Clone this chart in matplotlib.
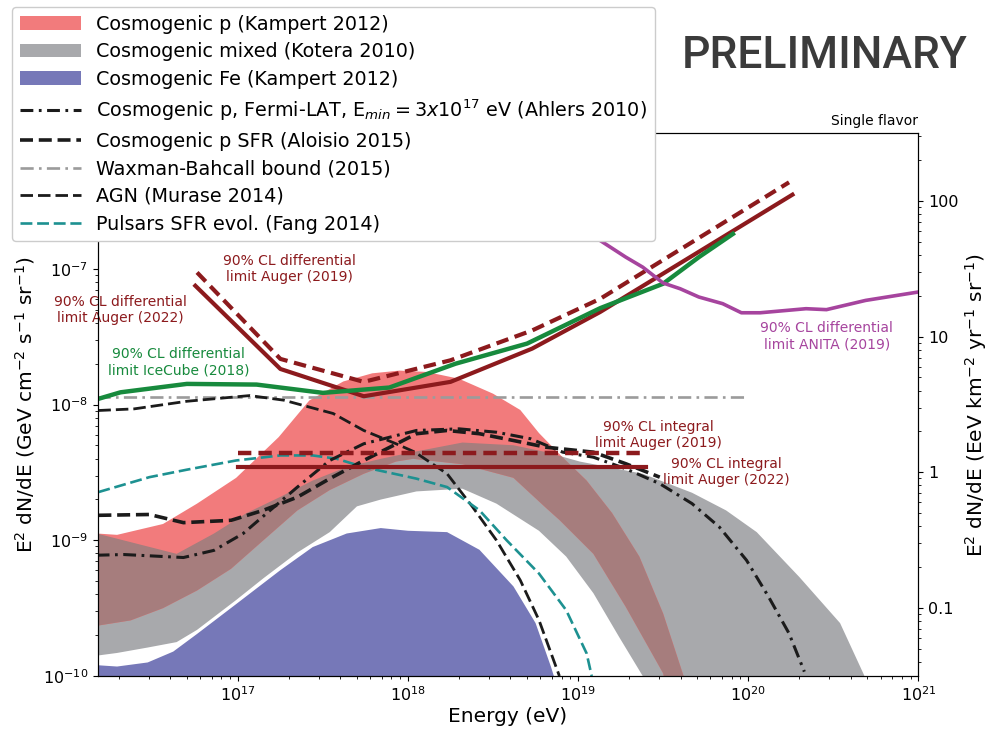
import numpy as np
import matplotlib
matplotlib.use("Agg")
import matplotlib.pyplot as plt
from matplotlib import ticker
from matplotlib.patches import Patch
from matplotlib.lines import Line2D

# ---------------- data (log10 of energy in eV, log10 of E^2 dN/dE in GeV cm^-2 s^-1 sr^-1)
# Cosmogenic Fe (Kampert 2012): upper edge of band
fe_logE = [16.17, 16.29, 16.47, 16.62, 16.76, 16.99, 17.25, 17.44, 17.64, 17.84,
           18.00, 18.23, 18.42, 18.62, 18.75, 18.84, 18.87]
fe_logF = [-9.92, -9.93, -9.90, -9.82, -9.69, -9.47, -9.22, -9.05, -8.95, -8.91,
           -8.93, -8.94, -9.07, -9.34, -9.61, -9.93, -10.05]

# Cosmogenic mixed (Kotera 2010): upper / lower edges
mix_hi_logE = [16.17, 16.64, 16.86, 17.05, 17.25, 17.44, 17.64, 17.84, 18.03, 18.32,
               18.62, 18.81, 19.01, 19.38, 19.67, 19.87, 20.05, 20.30, 20.54, 20.68, 20.71]
mix_hi_logF = [-8.95, -9.10, -8.95, -8.80, -8.68, -8.56, -8.46, -8.40, -8.35, -8.28,
               -8.30, -8.35, -8.42, -8.51, -8.65, -8.78, -8.94, -9.27, -9.61, -9.99, -10.1]
mix_lo_logE = [16.17, 16.29, 16.47, 16.64, 16.76, 16.99, 17.15, 17.35, 17.54, 17.70,
               17.84, 18.05, 18.32, 18.52, 18.77, 18.93, 19.09, 19.24, 19.38, 19.42]
mix_lo_logF = [-9.85, -9.83, -9.79, -9.75, -9.66, -9.44, -9.28, -9.09, -8.94, -8.75,
               -8.70, -8.64, -8.62, -8.73, -8.93, -9.12, -9.39, -9.71, -10.0, -10.1]

# Cosmogenic p (Kampert 2012): upper / lower edges
p_hi_logE = [16.17, 16.29, 16.56, 16.76, 16.99, 17.24, 17.42, 17.62, 17.79, 17.95, 18.11,
             18.30, 18.50, 18.66, 18.77, 18.91, 19.05, 19.20, 19.36, 19.50, 19.62, 19.65]
p_hi_logF = [-8.95, -8.96, -8.88, -8.73, -8.54, -8.24, -7.97, -7.83, -7.77, -7.75, -7.76,
             -7.81, -7.92, -8.04, -8.21, -8.39, -8.56, -8.80, -9.12, -9.54, -10.0, -10.2]
p_lo_logE = [16.17, 16.37, 16.56, 16.76, 16.96, 17.15, 17.35, 17.54, 17.74, 17.93,
             18.03, 18.32, 18.62, 18.81, 18.89, 19.09, 19.28, 19.50, 19.52]
p_lo_logF = [-9.63, -9.59, -9.50, -9.37, -9.21, -9.00, -8.78, -8.63, -8.51, -8.42,
             -8.40, -8.44, -8.54, -8.76, -8.85, -9.10, -9.49, -9.98, -10.1]

# Cosmogenic p, Fermi-LAT (Ahlers 2010)
ahl_logE = [16.17, 16.33, 16.68, 16.86, 17.03, 17.19, 17.35, 17.54, 17.74, 18.05, 18.30, 18.52,
            18.72, 18.91, 19.09, 19.28, 19.48, 19.67, 19.83, 19.99, 20.12, 20.24, 20.33]
ahl_logF = [-9.11, -9.105, -9.127, -9.074, -8.951, -8.779, -8.608, -8.412, -8.289, -8.191, -8.179,
            -8.204, -8.252, -8.351, -8.388, -8.473, -8.583, -8.73, -8.902, -9.147, -9.417,
            -9.686, -9.968]

# Cosmogenic p SFR (Aloisio 2015)
alo_logE = [16.18, 16.48, 16.68, 16.96, 17.15, 17.35, 17.54, 17.74, 18.05, 18.23, 18.42,
            18.62, 18.81, 19.09, 19.28, 19.48]
alo_logF = [-8.816, -8.81, -8.87, -8.853, -8.779, -8.682, -8.546, -8.412, -8.215, -8.191,
            -8.215, -8.265, -8.314, -8.351, -8.436, -8.535]

# Waxman-Bahcall bound (2015)
wb_logE = [16.17, 20.0]
wb_logF = [-7.946, -7.946]

# AGN (Murase 2014)
agn_logE = [16.18, 16.39, 16.70, 17.07, 17.27, 17.56, 17.74, 17.93, 18.04, 18.23, 18.38,
            18.52, 18.66, 18.77, 18.89]
agn_logF = [-8.044, -8.032, -7.976, -7.934, -7.968, -8.066, -8.191, -8.289, -8.35, -8.51,
            -8.755, -9.0, -9.294, -9.588, -10.0]

# Pulsars SFR evolution (Fang 2014)
psr_logE = [16.18, 16.48, 16.70, 16.99, 17.25, 17.44, 17.58, 17.74, 18.05, 18.23, 18.42,
            18.58, 18.77, 18.93, 19.05, 19.08]
psr_logF = [-8.645, -8.535, -8.48, -8.412, -8.375, -8.375, -8.399, -8.461, -8.546, -8.608,
            -8.779, -9.0, -9.245, -9.515, -9.833, -10.0]

# Differential limits
auger22_logE = [16.75, 17.25, 17.74, 18.25, 18.73, 19.13, 20.26]
auger22_logF = [-7.125, -7.738, -7.939, -7.833, -7.588, -7.318, -6.454]
auger19_logE = [16.76, 17.25, 17.74, 18.25, 18.73, 19.13, 20.24]
auger19_logF = [-7.027, -7.664, -7.833, -7.674, -7.454, -7.221, -6.363]
icecube_logE = [16.18, 16.31, 16.70, 17.11, 17.50, 17.89, 18.28, 18.70, 19.13, 19.50, 19.71, 19.91]
icecube_logF = [-7.958, -7.91, -7.848, -7.853, -7.914, -7.875, -7.699, -7.551, -7.29, -7.11,
                -6.914, -6.743]
anita_logE = [19.05, 19.13, 19.28, 19.38, 19.50, 19.60, 19.71, 19.85, 19.96, 20.07, 20.34,
              20.46, 20.69, 21.0]
anita_logF = [-6.73, -6.792, -6.914, -6.988, -7.105, -7.147, -7.208, -7.257, -7.324, -7.324,
              -7.294, -7.301, -7.233, -7.171]

# Integral limits (flat in E^2 dN/dE)
int19_logE = [17.0, 19.40]
int19_logF = [-8.355, -8.355]
int22_logE = [17.0, 19.40]
int22_logF = [-8.463, -8.463]

# GeV cm^-2 s^-1 -> EeV km^-2 yr^-1
GEV_TO_EEV = 1e-9
CM2_TO_KM2 = 1e10
S_TO_YR = 3.15576e7
conv = GEV_TO_EEV * CM2_TO_KM2 * S_TO_YR


def p10(a):
    return np.power(10.0, np.asarray(a, dtype=float))


# ---------------- style
c_red = "#f27b7c"
c_gray = "#a8a9ac"
c_overlap = "#a67d7d"
c_blue = "#7678b8"
c_auger = "#8c1a1d"
c_ice = "#178a3d"
c_anita = "#a6449e"
c_teal = "#1d9191"
c_black = "#1b1b1b"
c_wb = "#9b9b9b"

ls_ahl = (0, (4.2, 1.8, 0.9, 1.8))
ls_alo = (0, (3.6, 1.6))
ls_wb = (0, (5, 2, 1, 2))
ls_thin = (0, (4.5, 1.8))
ls_lim = (0, (3, 1.6))

plt.rcParams["font.family"] = ["DejaVu Sans"]

fig = plt.figure(figsize=(9.9, 7.31), dpi=100)
ax = fig.add_axes([0.0987, 0.0752, 0.8289, 0.7428])
ax.set_xscale("log")
ax.set_yscale("log")
ax.set_xlim(1.5e16, 1e21)
ax.set_ylim(1e-10, 1e-6)

# bands
fe_x = np.concatenate([p10(fe_logE), p10(fe_logE)[::-1]])
fe_y = np.concatenate([p10(fe_logF), np.full(len(fe_logE), 1e-11)])
ax.fill(fe_x, fe_y, color=c_blue, lw=0, zorder=1)

mix_x = np.concatenate([p10(mix_hi_logE), p10(mix_lo_logE)[::-1]])
mix_y = np.concatenate([p10(mix_hi_logF), p10(mix_lo_logF)[::-1]])
gray_patch = ax.fill(mix_x, mix_y, color=c_gray, lw=0, zorder=1)[0]

p_x = np.concatenate([p10(p_hi_logE), p10(p_lo_logE)[::-1]])
p_y = np.concatenate([p10(p_hi_logF), p10(p_lo_logF)[::-1]])
ax.fill(p_x, p_y, color=c_red, lw=0, zorder=2)
ov = ax.fill(p_x, p_y, color=c_overlap, lw=0, zorder=2.1)[0]
ov.set_clip_path(gray_patch)

# model curves
ax.plot(p10(wb_logE), p10(wb_logF), color=c_wb, lw=1.9, ls=ls_wb, zorder=3)
ax.plot(p10(agn_logE), p10(agn_logF), color=c_black, lw=2.0, ls=ls_thin, zorder=3)
ax.plot(p10(psr_logE), p10(psr_logF), color=c_teal, lw=1.9, ls=ls_thin, zorder=3)
ax.plot(p10(alo_logE), p10(alo_logF), color=c_black, lw=2.6, ls=ls_alo, zorder=3)
ax.plot(p10(ahl_logE), p10(ahl_logF), color=c_black, lw=2.2, ls=ls_ahl, zorder=3)

# integral limits
ax.plot(p10(int19_logE), p10(int19_logF), color=c_auger, lw=3.2, ls=ls_lim, zorder=4)
ax.plot(p10(int22_logE), p10(int22_logF), color=c_auger, lw=3.0, zorder=4)

# differential limits
ax.plot(p10(auger22_logE), p10(auger22_logF), color=c_auger, lw=3.0, zorder=4)
ax.plot(p10(auger19_logE), p10(auger19_logF), color=c_auger, lw=3.0, ls=ls_lim, zorder=4)
ax.plot(p10(icecube_logE), p10(icecube_logF), color=c_ice, lw=3.2, zorder=5)
ax.plot(p10(anita_logE), p10(anita_logF), color=c_anita, lw=2.6, zorder=6)

# limit labels
lbl = dict(ha="center", va="center", fontsize=10, multialignment="center", zorder=7)
ax.text(2.03e16, 5.0e-8, "90% CL differential\nlimit Auger (2022)", color=c_auger, **lbl)
ax.text(2.0e17, 1.0e-7, "90% CL differential\nlimit Auger (2019)", color=c_auger, **lbl)
ax.text(4.5e16, 2.04e-8, "90% CL differential\nlimit IceCube (2018)", color=c_ice, **lbl)
ax.text(2.9e20, 3.2e-8, "90% CL differential\nlimit ANITA (2019)", color=c_anita, **lbl)
ax.text(2.97e19, 6.0e-9, "90% CL integral\nlimit Auger (2019)", color=c_auger, **lbl)
ax.text(7.4e19, 3.2e-9, "90% CL integral\nlimit Auger (2022)", color=c_auger, **lbl)

ax.set_xlabel("Energy (eV)", fontsize=14.5, labelpad=2)
ax.set_ylabel(r"E$^2$ dN/dE (GeV cm$^{-2}$ s$^{-1}$ sr$^{-1}$)", fontsize=14.5)
ax.tick_params(axis="both", which="major", labelsize=11.5)
ax.set_title("Single flavor", loc="right", fontsize=10)

# secondary flux axis
ax2 = ax.twinx()
ax2.set_yscale("log")
ax2.set_ylim(1e-10 * conv, 1e-6 * conv)
ax2.yaxis.set_major_formatter(ticker.FuncFormatter(lambda v, _: f"{v:g}"))
ax2.yaxis.set_minor_formatter(ticker.NullFormatter())
ax2.tick_params(axis="y", which="major", labelsize=11.5)
ax2.set_ylabel(r"E$^2$ dN/dE (EeV km$^{-2}$ yr$^{-1}$ sr$^{-1}$)", fontsize=14.5, labelpad=3)

# legend
handles = [
    Patch(facecolor=c_red, edgecolor="none"),
    Patch(facecolor=c_gray, edgecolor="none"),
    Patch(facecolor=c_blue, edgecolor="none"),
    Line2D([], [], color=c_black, lw=2.2, ls=ls_ahl),
    Line2D([], [], color=c_black, lw=2.6, ls=ls_alo),
    Line2D([], [], color=c_wb, lw=1.9, ls=ls_wb),
    Line2D([], [], color=c_black, lw=2.0, ls=ls_thin),
    Line2D([], [], color=c_teal, lw=1.9, ls=ls_thin),
]
labels = [
    "Cosmogenic p (Kampert 2012)",
    "Cosmogenic mixed (Kotera 2010)",
    "Cosmogenic Fe (Kampert 2012)",
    r"Cosmogenic p, Fermi-LAT, E$_{min} = 3x10^{17}$ eV (Ahlers 2010)",
    "Cosmogenic p SFR (Aloisio 2015)",
    "Waxman-Bahcall bound (2015)",
    "AGN (Murase 2014)",
    "Pulsars SFR evol. (Fang 2014)",
]
leg = fig.legend(handles, labels, loc="upper left", bbox_to_anchor=(12 / 990, 1 - 7 / 731),
                 bbox_transform=fig.transFigure, borderaxespad=0, fontsize=13.8,
                 handlelength=3.2, labelspacing=0.45, framealpha=1.0)
leg.set_zorder(10)

fig.text(968 / 990, 1 - 68 / 731, "PRELIMINARY", ha="right", va="baseline",
         fontsize=32, family="Roboto", weight="medium", color="#3b3b3b")

fig.savefig("out.png", dpi=100)
